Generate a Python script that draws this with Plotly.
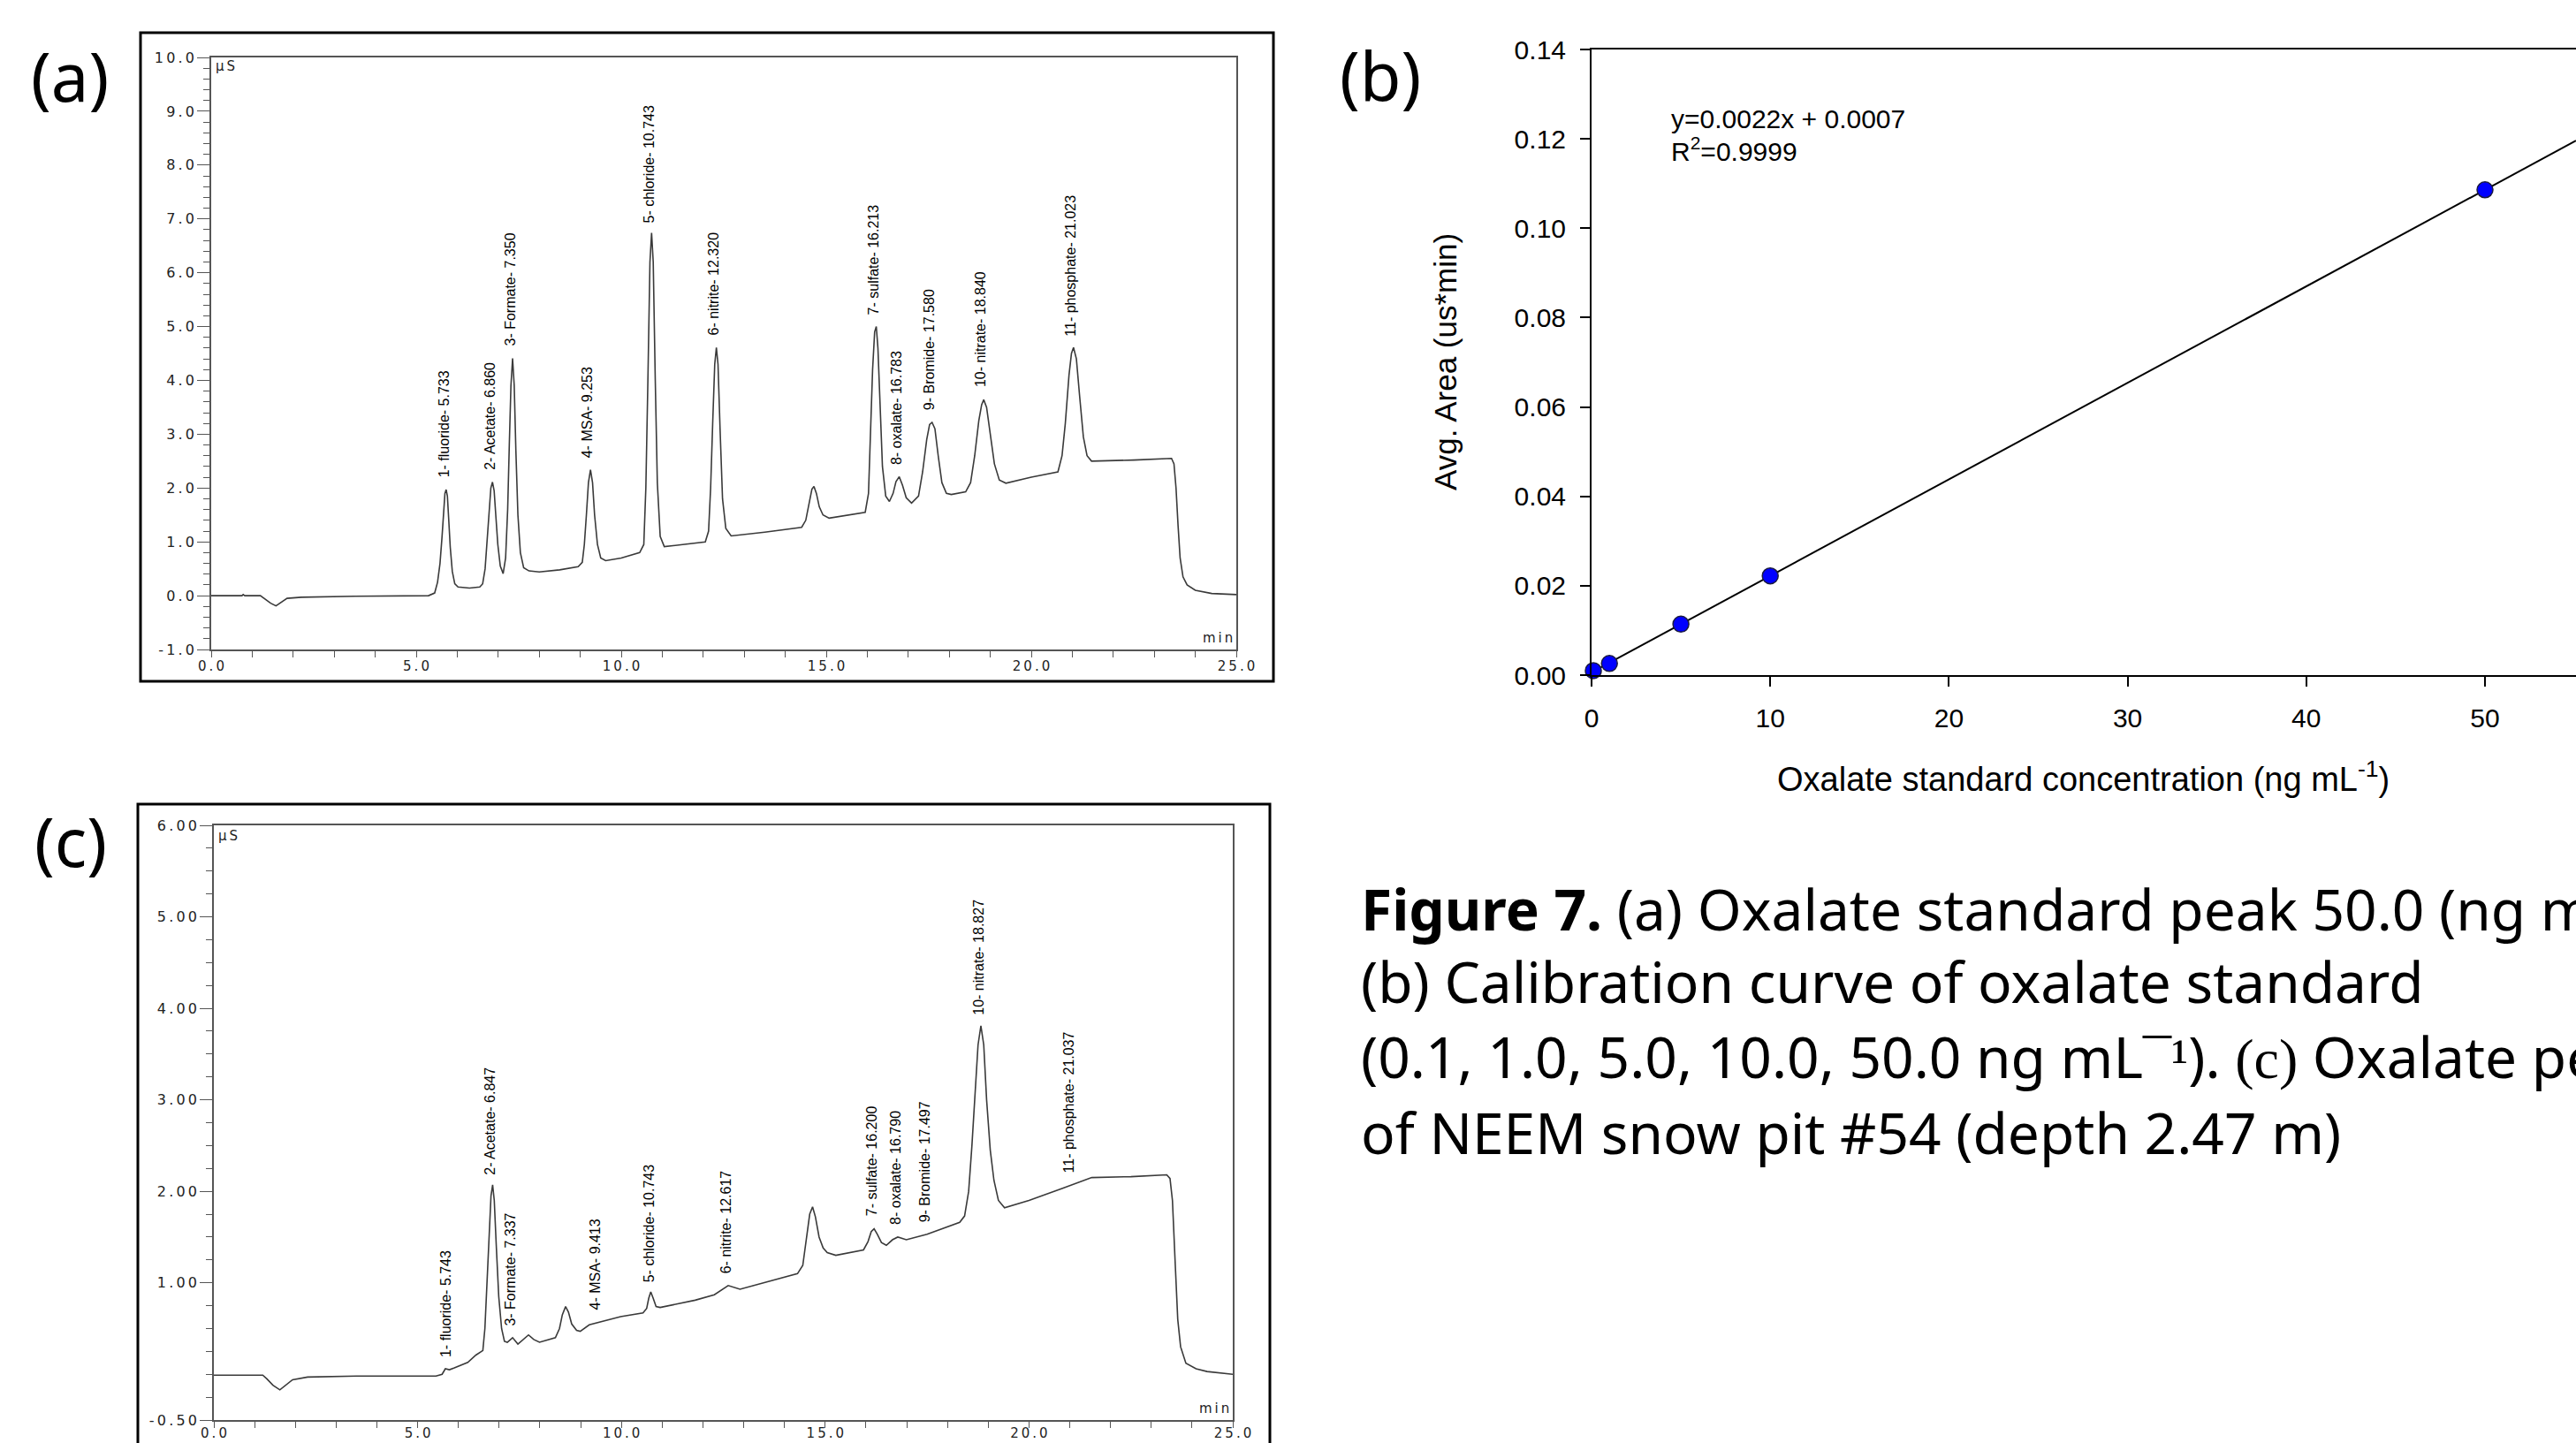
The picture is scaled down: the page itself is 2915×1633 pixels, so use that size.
import numpy as np
import plotly.graph_objects as go

# ---------------- data ----------------
# (a) chromatogram of 50.0 ng/mL standard: retention time (min) and signal (uS)
a_time = [0.0, 0.75, 0.78, 0.82, 1.2, 1.3, 1.45, 1.58, 1.7, 1.85, 2.2, 3.5, 5.3, 5.45,
          5.52, 5.58, 5.63, 5.67, 5.70, 5.73, 5.76, 5.79, 5.83, 5.88, 5.94, 6.02, 6.3, 6.55, 6.62,
          6.68, 6.73, 6.78, 6.82, 6.86, 6.90, 6.94, 6.99, 7.05, 7.12,
          7.18, 7.23, 7.27, 7.31, 7.35, 7.39, 7.43, 7.48, 7.54, 7.62, 7.75, 8.0, 8.5, 8.95, 9.05,
          9.10, 9.15, 9.20, 9.25, 9.30, 9.35, 9.42, 9.50, 9.62, 10.0, 10.45, 10.55,
          10.60, 10.65, 10.70, 10.74, 10.78, 10.83, 10.88, 10.95, 11.05, 11.5, 12.05, 12.13,
          12.18, 12.23, 12.28, 12.32, 12.36, 12.41, 12.47, 12.55, 12.68, 13.5, 14.4, 14.5,
          14.58, 14.65, 14.70, 14.76, 14.83, 14.92, 15.07, 15.5, 15.95, 16.03,
          16.08, 16.13, 16.18, 16.22, 16.26, 16.31, 16.37, 16.45, 16.54,
          16.63, 16.70, 16.78, 16.86, 16.95, 17.08,
          17.25, 17.35, 17.45, 17.52, 17.58, 17.65, 17.73, 17.82, 17.93, 18.05, 18.4,
          18.52, 18.62, 18.72, 18.79, 18.84, 18.91, 19.0, 19.1, 19.22, 19.38, 20.0, 20.65,
          20.75, 20.83, 20.92, 20.98, 21.03, 21.1, 21.18, 21.27, 21.36, 21.47, 22.5, 23.42,
          23.48, 23.53, 23.58, 23.63, 23.7, 23.8, 24.0, 24.4, 25.0]
a_signal = [0.0, 0.0, 0.02, 0.0, 0.0, -0.06, -0.14, -0.19, -0.13, -0.05, -0.03, -0.01, 0.0, 0.05,
            0.25, 0.6, 1.1, 1.6, 1.9, 1.97, 1.85, 1.45, 0.9, 0.45, 0.22, 0.16, 0.14, 0.16, 0.22,
            0.5, 1.0, 1.6, 2.0, 2.11, 1.95, 1.5, 0.95, 0.55, 0.41,
            0.7, 1.6, 2.8, 3.9, 4.41, 3.9, 2.7, 1.5, 0.8, 0.52, 0.46, 0.44, 0.48, 0.54, 0.62,
            0.95, 1.5, 2.1, 2.34, 2.1, 1.5, 0.95, 0.7, 0.65, 0.7, 0.80, 0.95,
            2.0, 4.0, 6.2, 6.74, 6.2, 4.0, 2.1, 1.1, 0.91, 0.95, 1.0, 1.2,
            2.0, 3.2, 4.3, 4.61, 4.3, 3.1, 1.8, 1.25, 1.11, 1.18, 1.27, 1.4,
            1.7, 1.98, 2.03, 1.9, 1.65, 1.5, 1.44, 1.49, 1.55, 1.9,
            3.0, 4.2, 4.9, 5.0, 4.6, 3.5, 2.4, 1.85, 1.75,
            1.9, 2.12, 2.21, 2.05, 1.82, 1.72,
            1.85, 2.3, 2.9, 3.18, 3.22, 3.1, 2.6, 2.1, 1.9, 1.88, 1.93,
            2.1, 2.6, 3.25, 3.55, 3.64, 3.5, 3.0, 2.45, 2.15, 2.09, 2.2, 2.3,
            2.6, 3.2, 4.1, 4.5, 4.61, 4.4, 3.7, 2.95, 2.6, 2.5, 2.52, 2.55,
            2.45, 2.0, 1.3, 0.7, 0.35, 0.2, 0.1, 0.04, 0.02]

a_peak_names = ["fluoride", "Acetate", "Formate", "MSA", "chloride", "nitrite",
                "sulfate", "oxalate", "Bromide", "nitrate", "phosphate"]
a_peak_times = [5.733, 6.860, 7.350, 9.253, 10.743, 12.320,
                16.213, 16.783, 17.580, 18.840, 21.023]

# (b) calibration curve
conc = [0.1, 1.0, 5.0, 10.0, 50.0]              # ng/mL
area = [0.0010, 0.0026, 0.0114, 0.0222, 0.1086]  # uS*min
equation_text = "y=0.0022x + 0.0007"
r2_text = "R<sup>2</sup>=0.9999"

# (c) chromatogram of NEEM snow pit #54 sample
c_time = [0.0, 1.2, 1.3, 1.45, 1.62, 1.75, 1.93, 2.3, 3.5, 5.45, 5.6, 5.68, 5.78, 5.9, 6.23, 6.43, 6.52, 6.6,
          6.65, 6.7, 6.75, 6.80, 6.84, 6.88, 6.93, 6.99, 7.06, 7.13, 7.2, 7.33, 7.46, 7.6, 7.72, 7.85, 7.99, 8.38,
          8.48, 8.55, 8.63, 8.7, 8.78, 8.9, 8.99, 9.21, 9.98, 10.53,
          10.62, 10.67, 10.72, 10.78, 10.85, 10.95, 11.81, 12.28, 12.45, 12.62, 12.91, 14.32, 14.45,
          14.55, 14.62, 14.69, 14.76, 14.85, 14.95, 15.05, 15.26, 15.94,
          16.05, 16.13, 16.2, 16.28, 16.38, 16.5, 16.65, 16.78, 16.99, 17.5, 18.3, 18.42,
          18.52, 18.6, 18.68, 18.75, 18.82, 18.89, 18.96, 19.05, 19.14, 19.25, 19.40, 20.0, 20.81, 21.54, 22.5, 23.38,
          23.46, 23.52, 23.59, 23.65, 23.72, 23.85, 24.1, 24.37, 25.0]
c_signal = [-0.01, -0.01, -0.05, -0.12, -0.17, -0.12, -0.06, -0.03, -0.02, -0.02, 0.0, 0.06, 0.05, 0.07, 0.13, 0.21, 0.24, 0.26,
            0.5, 1.0, 1.55, 1.95, 2.07, 1.9, 1.4, 0.85, 0.5, 0.36, 0.35, 0.40, 0.33, 0.38, 0.43, 0.38, 0.35, 0.40,
            0.5, 0.65, 0.74, 0.68, 0.55, 0.48, 0.47, 0.54, 0.63, 0.67,
            0.72, 0.83, 0.90, 0.83, 0.74, 0.73, 0.81, 0.87, 0.92, 0.97, 0.93, 1.10, 1.19,
            1.5, 1.75, 1.83, 1.72, 1.5, 1.38, 1.33, 1.30, 1.36,
            1.45, 1.56, 1.59, 1.53, 1.44, 1.41, 1.47, 1.50, 1.47, 1.53, 1.66, 1.73,
            2.0, 2.5, 3.1, 3.6, 3.81, 3.6, 3.0, 2.45, 2.12, 1.9, 1.82, 1.9, 2.03, 2.15, 2.16, 2.18,
            2.14, 1.9, 1.19, 0.6, 0.3, 0.12, 0.06, 0.03, 0.0]

c_peak_names = a_peak_names
c_peak_times = [5.743, 6.847, 7.337, 9.413, 10.743, 12.617,
                16.200, 16.790, 17.497, 18.827, 21.037]

a_y_ticks = [-1.0, 0.0, 1.0, 2.0, 3.0, 4.0, 5.0, 6.0, 7.0, 8.0, 9.0, 10.0]
c_y_ticks = [-0.5, 1.0, 2.0, 3.0, 4.0, 5.0, 6.0]
chrom_x_ticks = [0.0, 5.0, 10.0, 15.0, 20.0, 25.0]
b_x_ticks = [0, 10, 20, 30, 40, 50]
b_y_ticks = [0.00, 0.02, 0.04, 0.06, 0.08, 0.10, 0.12, 0.14]

# ---------------- layout helpers ----------------
W, H = 2915, 1633
THIN = "\u2009"


def fx(px):
    return px / W


def fy(py):
    return 1 - py / H


def spaced(s):
    # the instrument software prints its axis text with wide letter spacing
    return THIN.join(s)


CHROM_LINE = "#3a3a3a"
AX_COL = "#555555"
TICK_FONT = dict(family="DejaVu Sans", size=16, color="#222222")
X_TICK_FONT = dict(family="DejaVu Sans", size=15, color="#222222")
B_FONT = "Liberation Sans, Arial, sans-serif"

fig = go.Figure()

fig.add_trace(go.Scatter(x=a_time, y=a_signal, mode="lines",
                         line=dict(color=CHROM_LINE, width=1.6),
                         xaxis="x", yaxis="y", showlegend=False, hoverinfo="skip"))

coef = np.polyfit(conc, area, 1)
b_x_end = (W - 1801) / ((2812 - 1801) / 50.0)
fit_x = np.array([0.0, b_x_end])
fit_y = np.polyval(coef, fit_x)
fig.add_trace(go.Scatter(x=fit_x, y=fit_y, mode="lines", line=dict(color="black", width=2),
                         xaxis="x2", yaxis="y2", showlegend=False, hoverinfo="skip"))
fig.add_trace(go.Scatter(x=conc, y=area, mode="markers",
                         marker=dict(color="#0000ff", size=18, line=dict(color="#1a1a40", width=1.5)),
                         xaxis="x2", yaxis="y2", showlegend=False, cliponaxis=False))

fig.add_trace(go.Scatter(x=c_time, y=c_signal, mode="lines",
                         line=dict(color=CHROM_LINE, width=1.6),
                         xaxis="x3", yaxis="y3", showlegend=False, hoverinfo="skip"))


def chrom_x(domain, anchor, standoff):
    return dict(domain=domain, anchor=anchor, range=[0, 25], showline=True, mirror=True,
                linecolor=AX_COL, linewidth=1.5, showgrid=False, zeroline=False, automargin=False,
                ticks="outside", ticklen=7, tickwidth=1.3, tickcolor=AX_COL,
                tickvals=chrom_x_ticks, ticktext=[spaced(f"{v:.1f}") for v in chrom_x_ticks],
                tickfont=X_TICK_FONT, ticklabelstandoff=standoff,
                minor=dict(ticks="outside", tickmode="linear", tick0=0, dtick=1,
                           ticklen=7, tickwidth=1.2, tickcolor=AX_COL, showgrid=False))


def chrom_y(domain, anchor, rng, ticks, fmt, minor_dtick):
    return dict(domain=domain, anchor=anchor, range=rng, showline=True, mirror=True,
                linecolor=AX_COL, linewidth=1.5, showgrid=False, zeroline=False, automargin=False,
                ticks="outside", ticklen=14, tickwidth=1.3, tickcolor=AX_COL,
                tickvals=ticks, ticktext=[spaced(format(v, fmt)) for v in ticks],
                tickfont=TICK_FONT, ticklabelstandoff=0,
                minor=dict(ticks="outside", tickmode="linear", tick0=rng[0], dtick=minor_dtick,
                           ticklen=7, tickwidth=1.2, tickcolor=AX_COL, showgrid=False))


fig.update_layout(
    width=W, height=H, autosize=False,
    margin=dict(l=0, r=0, t=0, b=0, autoexpand=False),
    paper_bgcolor="white", plot_bgcolor="white",
    showlegend=False,
    xaxis=chrom_x([fx(239), fx(1399)], "y", -3),
    yaxis=chrom_y([fy(735), fy(65)], "x", [-1, 10], a_y_ticks, ".1f", 0.2),
    xaxis3=chrom_x([fx(242), fx(1395)], "y3", -7),
    yaxis3=chrom_y([fy(1607), fy(934)], "x3", [-0.5, 6.0], c_y_ticks, ".2f", 0.25),
    xaxis2=dict(domain=[fx(1801), 1.0], anchor="y2", range=[0, b_x_end], automargin=False,
                showline=True, mirror=True, linecolor="black", linewidth=2,
                showgrid=False, zeroline=False, ticks="outside", ticklen=11, tickwidth=2,
                tickcolor="black", tickvals=b_x_ticks, ticklabelstandoff=10,
                tickfont=dict(family=B_FONT, size=30, color="black")),
    yaxis2=dict(domain=[fy(764), fy(56)], anchor="x2", range=[0, 0.14], automargin=False,
                showline=True, mirror=False, linecolor="black", linewidth=2,
                showgrid=False, zeroline=False, ticks="outside", ticklen=11, tickwidth=2,
                tickcolor="black", tickvals=b_y_ticks, tickformat=".2f", ticklabelstandoff=10,
                tickfont=dict(family=B_FONT, size=30, color="black")),
)

shapes = [
    dict(type="rect", xref="paper", yref="paper", x0=fx(159), x1=fx(1441), y0=fy(37), y1=fy(771),
         line=dict(color="black", width=3), layer="below"),
    dict(type="rect", xref="paper", yref="paper", x0=fx(156), x1=fx(1437), y0=fy(910), y1=fy(1660),
         line=dict(color="black", width=3), layer="below"),
]

ann = []


def peak_labels(names, times, tsrc, vsrc, xref, yref):
    for i, (nm, t) in enumerate(zip(names, times), start=1):
        ann.append(dict(x=t, y=float(np.interp(t, tsrc, vsrc)), xref=xref, yref=yref,
                        text=f"{i}- {nm}- {t:.3f}", textangle=-90, showarrow=False,
                        xanchor="center", yanchor="bottom", yshift=12, xshift=-3,
                        font=dict(family="Liberation Sans", size=16, color="black")))


peak_labels(a_peak_names, a_peak_times, a_time, a_signal, "x", "y")
peak_labels(c_peak_names, c_peak_times, c_time, c_signal, "x3", "y3")

unit_font = dict(family="DejaVu Sans", size=15, color="#222222")
for (ux, uy, mx, my) in [(242, 75, 1397, 733), (245, 946, 1393, 1605)]:
    ann.append(dict(x=fx(ux), y=fy(uy), xref="paper", yref="paper", text=spaced("µS"), showarrow=False,
                    xanchor="left", yanchor="middle", font=unit_font))
    ann.append(dict(x=fx(mx), y=fy(my), xref="paper", yref="paper", text=spaced("min"), showarrow=False,
                    xanchor="right", yanchor="bottom", font=unit_font))

panel_font = dict(family="Noto Sans", size=76, color="black")
for txt, px, py in [("(a)", 79, 86), ("(b)", 1562, 84), ("(c)", 80, 951)]:
    ann.append(dict(x=fx(px), y=fy(py), xref="paper", yref="paper", text=txt, showarrow=False,
                    xanchor="center", yanchor="middle", font=panel_font))

# (b) axis titles and equation
ann.append(dict(x=fx(2357), y=fy(879), xref="paper", yref="paper", showarrow=False,
                text="Oxalate standard concentration (ng mL<sup>-1</sup>)",
                xanchor="center", yanchor="middle", font=dict(family=B_FONT, size=38, color="black")))
ann.append(dict(x=fx(1636), y=fy(409), xref="paper", yref="paper", showarrow=False,
                text="Avg. Area (us*min)", textangle=-90,
                xanchor="center", yanchor="middle", font=dict(family=B_FONT, size=35, color="black")))
ann.append(dict(x=fx(1889), y=fy(134), xref="paper", yref="paper", showarrow=False,
                text=equation_text,
                xanchor="left", yanchor="middle", font=dict(family=B_FONT, size=30, color="black")))
ann.append(dict(x=fx(1889), y=fy(169), xref="paper", yref="paper", showarrow=False,
                text=r2_text,
                xanchor="left", yanchor="middle", font=dict(family=B_FONT, size=30, color="black")))

# caption
cap_font = dict(family="Noto Sans", size=64, color="black")
serif = "<span style='font-family:Liberation Serif'>"
caption_lines = [
    "<b>Figure 7.</b> (a) Oxalate standard peak 50.0 (ng mL<sup>-1</sup>).",
    "(b) Calibration curve of oxalate standard",
    f"(0.1, 1.0, 5.0, 10.0, 50.0 ng mL{serif}¯¹</span>). {serif}(c)</span> Oxalate peak",
    "of NEEM snow pit #54 (depth 2.47 m)",
]
for line, py in zip(caption_lines, [1025, 1110, 1195, 1281]):
    ann.append(dict(x=fx(1538), y=fy(py), xref="paper", yref="paper", showarrow=False,
                    text=line, xanchor="left", yanchor="middle", align="left", font=cap_font))

fig.update_layout(annotations=ann, shapes=shapes)
fig.write_html("out.html", config={"displayModeBar": False},
               post_script="document.body.style.margin='0';document.body.style.overflow='hidden';")
